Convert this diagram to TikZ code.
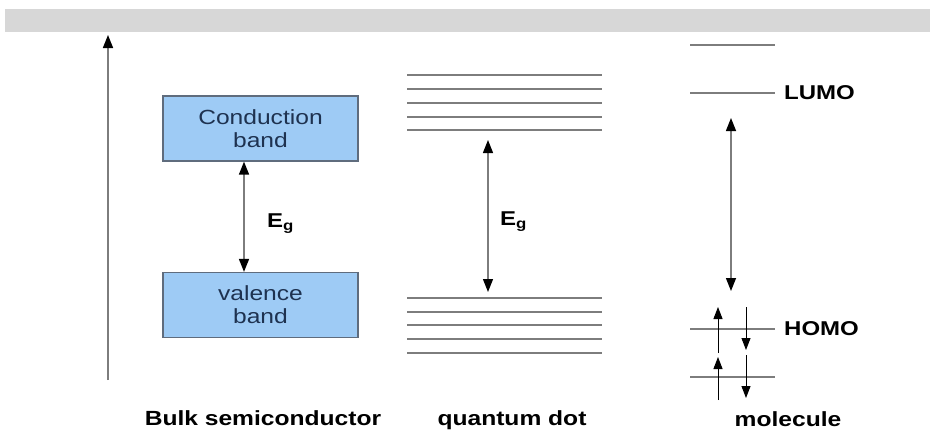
\documentclass[tikz,border=0pt]{standalone}
\usepackage{fontspec}
\setmainfont{Liberation Sans}
\usepackage{graphicx}
\usetikzlibrary{arrows.meta, positioning}
\definecolor{bandblue}{RGB}{158,203,245}
\definecolor{bandedge}{RGB}{95,108,125}
\definecolor{bandtext}{RGB}{30,50,80}
\definecolor{levelgray}{RGB}{125,125,125}
\definecolor{stripgray}{RGB}{215,215,215}
\newcommand{\wide}[1]{\scalebox{1.2}[1]{#1}}
\tikzset{
    bandbox/.style={rectangle, draw=bandedge, fill=bandblue, line width=1.2pt, minimum width=195pt, minimum height=65pt, inner sep=0pt, align=center, text=bandtext, font=\fontsize{20.5}{23}\selectfont},
    level/.style={draw=levelgray, line width=1.6pt},
    gap/.style={draw=levelgray, line width=1.4pt, {Triangle[length=13pt,width=10pt,color=black]}-{Triangle[length=13pt,width=10pt,color=black]}},
    spin/.style={draw=black, line width=1pt, -{Triangle[length=12pt,width=9pt]}},
    caption/.style={font=\bfseries\fontsize{20.5}{24}\selectfont, inner sep=0pt},
    energy/.style={font=\bfseries\fontsize{20}{24}\selectfont, inner sep=0pt}
}
\begin{document}
\begin{tikzpicture}[x=1pt, y=-1pt]
\useasboundingbox (0,0) rectangle (930,431);
% page strip at the top
\fill[stripgray] (5,9) rectangle (930,32);
% energy axis
\coordinate (axislow) at (108,380);
\coordinate (axishigh) at (108,35);
\draw[draw=levelgray, line width=1.6pt, -{Triangle[length=13pt,width=10pt,color=black]}] (axislow) -- (axishigh);
% bulk semiconductor
\node[bandbox] (cb) at (260.5,128.5) {\wide{Conduction}\\\wide{band}};
\node[bandbox] (vb) at (260.5,305) {\wide{valence}\\\wide{band}};
\draw[gap] ([xshift=-16.5pt]cb.south) -- ([xshift=-16.5pt]vb.north);
\node[energy, anchor=west] (bulkeg) at (267,224) {\wide{E\textsubscript{g}}};
% quantum dot
\foreach \y in {75,89,103,117,130} \draw[level] (407,\y) -- (602,\y);
\foreach \y in {298,312,325,339,353} \draw[level] (407,\y) -- (602,\y);
\coordinate (qdup) at (488,140);
\coordinate (qddown) at (488,292);
\draw[gap] (qdup) -- (qddown);
\node[energy, anchor=west] (qdeg) at (500,222) {\wide{E\textsubscript{g}}};
% molecule
\foreach \y in {45,93,329,377} \draw[level, line width=1.2pt] (690,\y) -- (775,\y);
\node[energy, anchor=west] (lumo) at (784,93) {\wide{LUMO}};
\node[energy, anchor=west] (homo) at (784,329) {\wide{HOMO}};
\coordinate (molup) at (731,118);
\coordinate (moldown) at (731,291);
\draw[gap] (molup) -- (moldown);
\coordinate (s1a) at (718,353);
\coordinate (s1b) at (718,307);
\coordinate (s2a) at (746,307);
\coordinate (s2b) at (746,350);
\coordinate (s3a) at (718,400);
\coordinate (s3b) at (718,357);
\coordinate (s4a) at (746,355);
\coordinate (s4b) at (746,398);
\draw[spin] (s1a) -- (s1b);
\draw[spin] (s2a) -- (s2b);
\draw[spin] (s3a) -- (s3b);
\draw[spin] (s4a) -- (s4b);
% captions
\node[caption] (bulk) at (263,418) {\wide{Bulk semiconductor}};
\node[caption] (qd) at (512,420) {\wide{quantum dot}};
\node[caption] (mol) at (788,419) {\wide{molecule}};
\end{tikzpicture}
\end{document}
